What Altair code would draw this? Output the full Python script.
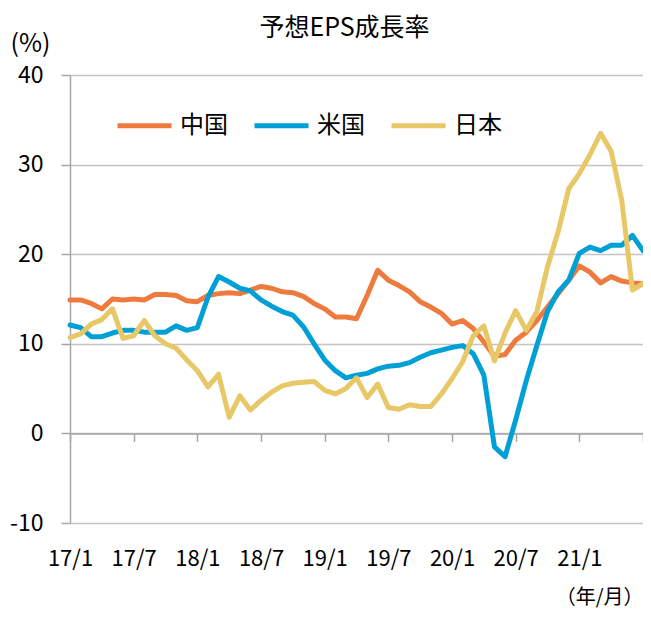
import altair as alt
import pandas as pd

FONT = "Noto Sans CJK JP"

months = list(range(55))  # 2017/1 .. 2021/7
tick_labels = ["17/1", "17/7", "18/1", "18/7", "19/1", "19/7", "20/1", "20/7", "21/1"]
series = ["中国", "米国", "日本"]
colors = ["#EE7B3D", "#00A0D6", "#E8C766"]

china = [14.9, 14.9, 14.5, 13.9, 15.0, 14.9, 15.0, 14.9, 15.5, 15.5,
         15.4, 14.8, 14.7, 15.4, 15.6, 15.7, 15.6, 16.0, 16.4, 16.2,
         15.8, 15.7, 15.3, 14.5, 13.9, 13.0, 13.0, 12.8, 15.4, 18.2,
         17.1, 16.5, 15.8, 14.7, 14.1, 13.4, 12.2, 12.6, 11.7, 10.2,
         8.6, 8.8, 10.4, 11.3, 12.6, 14.1, 15.6, 17.1, 18.7, 18.0,
         16.8, 17.5, 17.0, 16.8, 16.7]
us = [12.1, 11.8, 10.8, 10.8, 11.2, 11.5, 11.5, 11.3, 11.3, 11.3,
      12.0, 11.5, 11.8, 15.2, 17.5, 16.9, 16.2, 15.9, 14.9, 14.2,
      13.6, 13.2, 11.9, 10.0, 8.2, 7.0, 6.2, 6.5, 6.7, 7.2,
      7.5, 7.6, 7.9, 8.5, 9.0, 9.3, 9.6, 9.8, 8.9, 6.5,
      -1.5, -2.6, 1.5, 5.9, 9.8, 13.6, 15.8, 17.1, 20.1, 20.8,
      20.4, 21.0, 21.0, 22.1, 20.4]
japan = [10.7, 11.1, 12.2, 12.7, 13.9, 10.6, 10.9, 12.6, 10.9, 10.0,
         9.5, 8.2, 7.0, 5.2, 6.6, 1.8, 4.2, 2.6, 3.7, 4.6,
         5.3, 5.6, 5.7, 5.8, 4.8, 4.4, 5.0, 6.2, 4.0, 5.5,
         2.9, 2.7, 3.2, 3.0, 3.0, 4.4, 6.1, 8.0, 10.9, 12.0,
         8.1, 11.2, 13.7, 11.5, 13.6, 18.6, 22.5, 27.3, 29.0, 31.1,
         33.5, 31.5, 26.0, 16.0, 16.7]

rows = []
for name, vals in zip(series, [china, us, japan]):
    for m, v in zip(months, vals):
        rows.append({"m": m, "v": v, "s": name})
df = pd.DataFrame(rows)

AX = "#A6A6A6"
GRID = "#C4C4C4"

xscale = alt.Scale(domain=[0, 54], nice=False, zero=False)
label_expr = "[" + ",".join("'%s'" % t for t in tick_labels) + "][datum.value / 6]"

yenc = alt.Y(
    "v:Q",
    scale=alt.Scale(domain=[-10, 40], nice=False),
    axis=alt.Axis(
        values=[-10, 0, 10, 20, 30, 40],
        labelExpr="datum.value < 0 ? '-' + abs(datum.value) : '' + datum.value",
        title="(%)", titleAngle=0, titleAlign="left", titleBaseline="alphabetic",
        titleX=-60, titleY=-24, titleFont=FONT, titleFontSize=25,
        titleFontWeight="normal", titleColor="black",
        labelFont=FONT, labelFontSize=23, labelColor="black", labelPadding=18,
        tickSize=9, tickColor=AX, tickWidth=1.5,
        domainColor=AX, domainWidth=1.5,
        grid=True, gridColor=GRID, gridWidth=1.5,
    ),
)

lines = alt.Chart(df).mark_line(strokeWidth=5, strokeJoin="round", strokeCap="round").encode(
    x=alt.X("m:Q", scale=xscale,
            axis=alt.Axis(orient="bottom", values=list(range(0, 55, 6)), labels=False,
                          title=None, grid=False, offset=-89.6,
                          domainColor=AX, domainWidth=1.5,
                          tickColor=AX, tickWidth=1.5, tickSize=8)),
    y=yenc,
    color=alt.Color("s:N", sort=series,
                    scale=alt.Scale(domain=series, range=colors),
                    legend=alt.Legend(title=None, orient="none", legendX=45, legendY=21,
                                      direction="horizontal", symbolType="stroke",
                                      symbolSize=2916, symbolStrokeWidth=5,
                                      labelFont=FONT, labelFontSize=24, labelColor="black",
                                      labelOffset=6, columnPadding=16, padding=0)),
)

labels_layer = alt.Chart(df).mark_point(opacity=0).encode(
    x=alt.X("m:Q", scale=xscale,
            axis=alt.Axis(orient="bottom", values=list(range(0, 49, 6)), labelExpr=label_expr,
                          labelOverlap=False, labelFlush=False, labelBound=False,
                          domain=False, ticks=False, tickSize=0, grid=False,
                          labelFont=FONT, labelFontSize=22, labelColor="black",
                          labelPadding=25,
                          title="（年/月）", titleFont=FONT, titleFontSize=20,
                          titleFontWeight="normal", titleColor="black",
                          titleAlign="right", titleBaseline="alphabetic",
                          titleX=573, titleY=80)),
    y=yenc,
)

chart = alt.layer(lines, labels_layer).resolve_axis(x="independent").properties(
    width=573, height=448,
    title=alt.Title("予想EPS成長率", font=FONT, fontSize=25, fontWeight="normal",
                    color="black", anchor="middle", dx=-12, offset=0, dy=10),
    autosize=alt.AutoSizeParams(type="none"),
    padding={"left": 62, "top": 67, "right": 0, "bottom": 87},
).configure_view(stroke=None)

chart.save("out.html", embed_options={"renderer": "svg", "actions": False})
